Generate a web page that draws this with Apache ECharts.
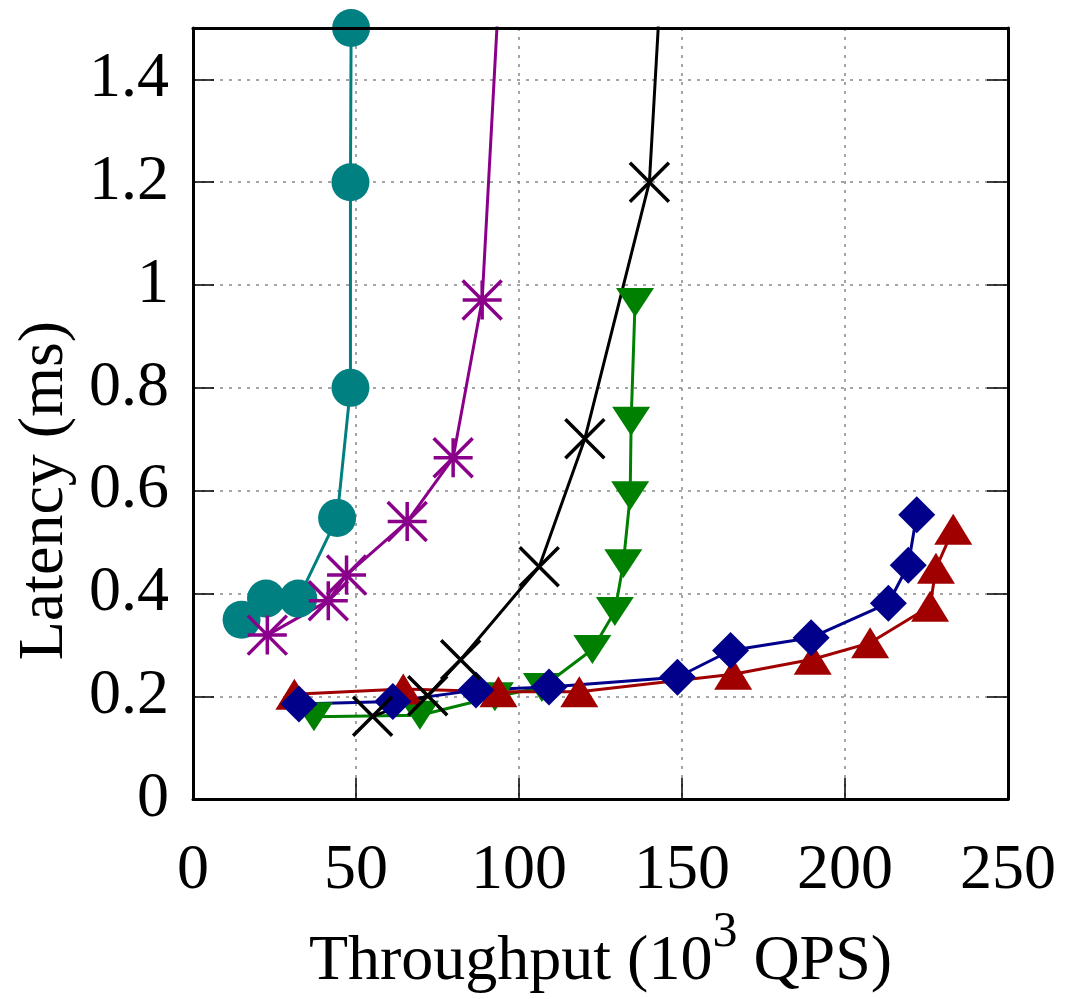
<!DOCTYPE html>
<html>
<head>
<meta charset="utf-8">
<script src="https://cdn.jsdelivr.net/npm/echarts@6/dist/echarts.min.js"></script>
<style>
  html, body { margin: 0; padding: 0; background: #fff; overflow: hidden; }
  #chart { width: 1074px; height: 999px; }
</style>
</head>
<body>
<div id="chart"></div>
<script>
// Throughput (10^3 QPS) and latency (ms) per configuration
const tealX   = [14.9, 22.4, 32.3, 44.2, 48.3, 48.3, 48.5];
const tealY   = [0.349, 0.390, 0.390, 0.547, 0.800, 1.200, 1.500];

const purpleX = [22.8, 41.5, 47.1, 65.7, 79.8, 88.7, 97.5];
const purpleY = [0.319, 0.386, 0.436, 0.540, 0.664, 0.971, 2.000];

const greenX  = [37.1, 69.6, 92.6, 107.0, 122.5, 129.4, 132.0, 134.1, 134.4, 135.6];
const greenY  = [0.160, 0.163, 0.199, 0.217, 0.291, 0.365, 0.458, 0.590, 0.735, 0.966];

const redX    = [31.1, 64.5, 93.7, 118.5, 165.7, 190.1, 207.7, 226.1, 227.9, 233.2];
const redY    = [0.204, 0.214, 0.209, 0.209, 0.243, 0.272, 0.304, 0.375, 0.449, 0.525];

const blueX   = [32.5, 61.3, 86.8, 109.2, 148.6, 164.9, 189.6, 213.3, 219.4, 222.0];
const blueY   = [0.185, 0.190, 0.212, 0.218, 0.237, 0.289, 0.314, 0.381, 0.455, 0.553];

const blackX  = [55.1, 72.0, 82.1, 106.2, 120.2, 140.0, 145.4];
const blackY  = [0.161, 0.201, 0.271, 0.452, 0.701, 1.200, 1.800];

const xTicks = { min: 0, max: 250, interval: 50 };
const yTicks = { min: 0, max: 1.5, interval: 0.2 };

const FONT = 'Liberation Serif';

function pairs(xs, ys) {
  return xs.map((x, i) => [x, ys[i]]);
}

// stroked marker outlines
const CROSS = 'path://M0,0L2,2M2,0L0,2';
const STAR  = 'path://M0,0L2,2M2,0L0,2M1,0L1,2M0,1L2,1';

function series(data, color, symbol, size, opts) {
  return Object.assign({
    type: 'line',
    data: data,
    color: color,
    symbol: symbol,
    symbolSize: size,
    showAllSymbol: true,
    clip: true,
    lineStyle: { color: color, width: 3 },
    itemStyle: { color: color, borderWidth: 0 },
    emphasis: { disabled: true },
    animation: false,
    z: 2
  }, opts || {});
}

const chart = echarts.init(document.getElementById('chart'), null, { renderer: 'canvas', width: 1074, height: 999 });

chart.setOption({
  backgroundColor: '#fff',
  animation: false,
  grid: { left: 193, top: 28, width: 815, height: 778, containLabel: false },
  xAxis: [
    {
      type: 'value', position: 'bottom',
      min: xTicks.min, max: xTicks.max, interval: xTicks.interval,
      name: '{n|Throughput (10}{s|3}{n| QPS)}',
      nameLocation: 'middle', nameGap: 126,
      nameTextStyle: {
        rich: {
          n: { fontFamily: FONT, fontSize: 64, color: '#000', lineHeight: 64 },
          s: { fontFamily: FONT, fontSize: 50, color: '#000', height: 6, lineHeight: 64, verticalAlign: 'top' }
        }
      },
      axisLine: { show: true, onZero: false, lineStyle: { color: '#000', width: 3 } },
      axisTick: { show: true, inside: true, length: 21, lineStyle: { color: '#000', width: 1.5 } },
      axisLabel: { show: true, margin: 40, fontFamily: FONT, fontSize: 64, color: '#000' },
      splitLine: { show: true, lineStyle: { color: '#888', width: 1.5, type: [3, 6] } },
      z: 0
    },
    {
      type: 'value', position: 'top',
      min: xTicks.min, max: xTicks.max, interval: xTicks.interval,
      axisLine: { show: true, onZero: false, lineStyle: { color: '#000', width: 3 } },
      axisTick: { show: false },
      axisLabel: { show: false },
      splitLine: { show: false },
      z: 10
    }
  ],
  yAxis: [
    {
      type: 'value', position: 'left',
      min: yTicks.min, max: yTicks.max, interval: yTicks.interval,
      name: 'Latency (ms)',
      nameLocation: 'middle', nameGap: 116, nameRotate: 90,
      nameTextStyle: { fontFamily: FONT, fontSize: 64, color: '#000', padding: [0, 154, 0, 0] },
      axisLine: { show: true, onZero: false, lineStyle: { color: '#000', width: 3 } },
      axisTick: { show: true, inside: true, length: 21, lineStyle: { color: '#000', width: 1.5 } },
      axisLabel: { show: true, margin: 24, showMaxLabel: false, fontFamily: FONT, fontSize: 64, color: '#000' },
      splitLine: { show: true, lineStyle: { color: '#888', width: 1.5, type: [3, 6] } },
      z: 0
    },
    {
      type: 'value', position: 'right',
      min: yTicks.min, max: yTicks.max, interval: yTicks.interval,
      axisLine: { show: true, onZero: false, lineStyle: { color: '#000', width: 3 } },
      axisTick: { show: true, inside: true, length: 21, lineStyle: { color: '#000', width: 1.5 } },
      axisLabel: { show: false },
      splitLine: { show: false },
      z: 10
    }
  ],
  series: [
    series(pairs(tealX, tealY), '#008080', 'circle', 38),
    series(pairs(purpleX, purpleY), '#8b008b', STAR, 39,
      { itemStyle: { color: '#8b008b', borderColor: '#8b008b', borderWidth: 3.5 } }),
    series(pairs(greenX, greenY), '#008000', 'triangle', [38, 29], { symbolRotate: 180 }),
    series(pairs(redX, redY), '#a00000', 'triangle', [38, 31]),
    series(pairs(blueX, blueY), '#00008b', 'diamond', [37, 37]),
    series(pairs(blackX, blackY), '#000000', CROSS, 39,
      { itemStyle: { color: '#000', borderColor: '#000', borderWidth: 3.5 } })
  ]
});
</script>
</body>
</html>
